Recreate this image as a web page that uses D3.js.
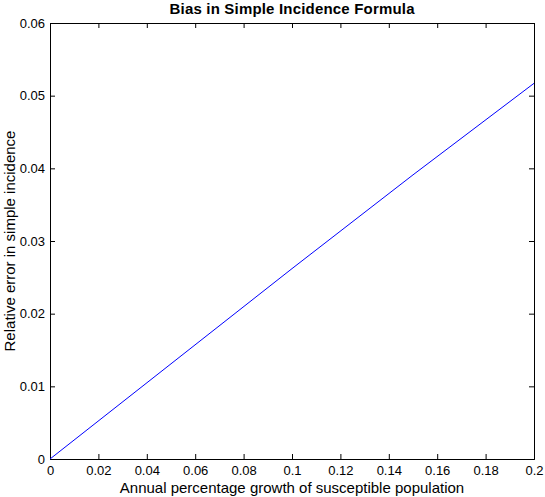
<!DOCTYPE html>
<html lang="en">
<head>
  <meta charset="UTF-8" />
  <title>Bias in Simple Incidence Formula</title>
  <script src="https://d3js.org/d3.v7.min.js"></script>
  <style>
    body {
      margin: 0;
      background: white;
      font-family: "Liberation Sans", Arial, sans-serif;
    }
    .tick text {
      font-size: 13px;
      fill: black;
    }
  </style>
</head>
<body>
  <svg width="545" height="497"></svg>

  <script>
    // data
    const growth = [0, 0.05, 0.1, 0.15, 0.2];
    const relError = [0, 0.0131, 0.0262, 0.0391, 0.0517];
    const xTicks = [0, 0.02, 0.04, 0.06, 0.08, 0.1, 0.12, 0.14, 0.16, 0.18, 0.2];
    const yTicks = [0, 0.01, 0.02, 0.03, 0.04, 0.05, 0.06];

    const width = 545;
    const height = 497;
    const margin = { top: 23, right: 11, bottom: 38, left: 50 };
    const w = width - margin.left - margin.right;
    const h = height - margin.top - margin.bottom;

    const svg = d3.select("svg");
    const g = svg.append("g")
      .attr("transform", `translate(${margin.left},${margin.top})`);

    const x = d3.scaleLinear().domain([0, 0.2]).range([0, w]);
    const y = d3.scaleLinear().domain([0, 0.06]).range([h, 0]);

    const fmt = d => d3.format("")(+d.toFixed(2));

    // bottom + left with labels, top + right mirrored ticks
    g.append("g")
      .attr("transform", `translate(0,${h})`)
      .call(d3.axisBottom(x).tickValues(xTicks).tickSize(-5).tickPadding(7).tickFormat(fmt));
    g.append("g")
      .call(d3.axisLeft(y).tickValues(yTicks).tickSize(-5).tickPadding(5).tickFormat(fmt));
    g.append("g")
      .call(d3.axisTop(x).tickValues(xTicks).tickSize(-5).tickFormat(""));
    g.append("g")
      .attr("transform", `translate(${w},0)`)
      .call(d3.axisRight(y).tickValues(yTicks).tickSize(-5).tickFormat(""));

    g.selectAll(".domain").attr("stroke", "black");
    g.selectAll(".tick line").attr("stroke", "black");
    g.selectAll(".tick text").attr("font-family", "Liberation Sans, Arial, sans-serif").attr("font-size", 13);

    const line = d3.line()
      .x((d, i) => x(growth[i]))
      .y(d => y(d));

    g.append("path")
      .datum(relError)
      .attr("fill", "none")
      .attr("stroke", "#0000ff")
      .attr("stroke-width", 1)
      .attr("d", line);

    svg.append("text")
      .attr("x", margin.left + w / 2)
      .attr("y", 14)
      .attr("text-anchor", "middle")
      .attr("font-size", 15)
      .attr("font-weight", "bold")
      .attr("textLength", 245)
      .attr("lengthAdjust", "spacing")
      .text("Bias in Simple Incidence Formula");

    svg.append("text")
      .attr("x", margin.left + w / 2)
      .attr("y", 493)
      .attr("text-anchor", "middle")
      .attr("font-size", 15)
      .text("Annual percentage growth of susceptible population");

    svg.append("text")
      .attr("transform", `translate(15,${margin.top + h / 2}) rotate(-90)`)
      .attr("text-anchor", "middle")
      .attr("font-size", 15)
      .text("Relative error in simple incidence");
  </script>
</body>
</html>
